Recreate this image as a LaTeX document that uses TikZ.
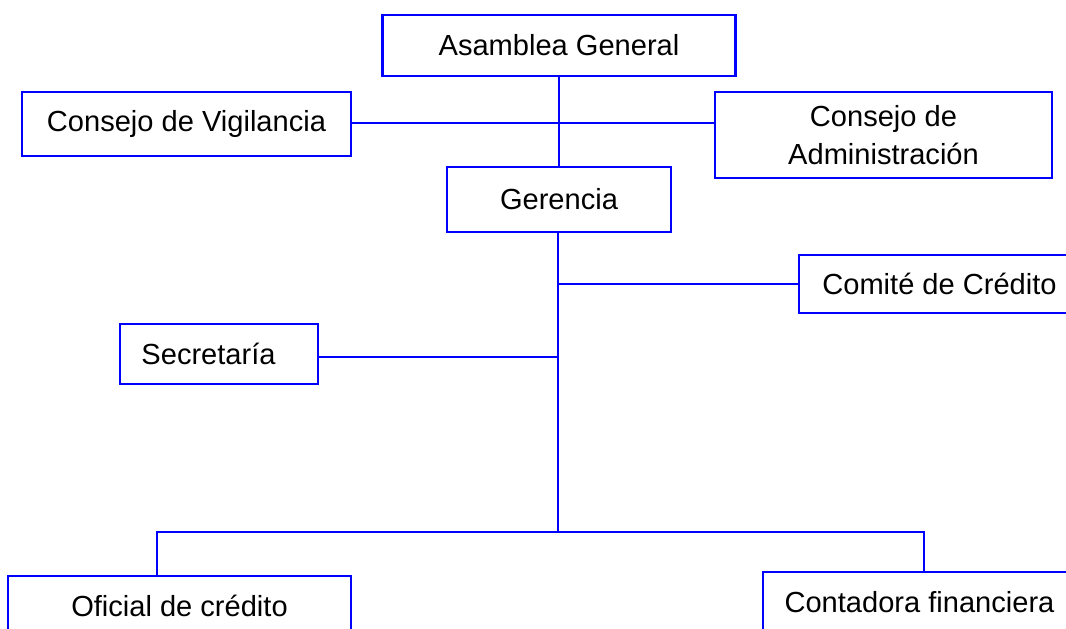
\documentclass[tikz,border=0pt]{standalone}
\usepackage{fontspec}
\setmainfont{Liberation Sans}
\begin{document}
\begin{tikzpicture}[x=0.75pt,y=-0.75pt,
	caja/.style={draw=blue,line width=1.6pt,inner sep=0pt,align=center,font=\fontsize{21.8}{28.7}\selectfont},
	linea/.style={draw=blue,line width=1.6pt}]
	\useasboundingbox (0,0) rectangle (1066,628);
	\node[caja,minimum width=264.75pt,minimum height=45.75pt] (asamblea) at (559,45.5){Asamblea General};
	\node[caja,minimum width=246.75pt,minimum height=48pt] (vigilancia) at (186.5,124){Consejo de Vigilancia};
	\node[caja,minimum width=252.75pt,minimum height=64.5pt] (administracion) at (883.5,135){Consejo de\\Administración};
	\node[caja,minimum width=168pt,minimum height=48.75pt] (gerencia) at (559,199.5){Gerencia};
	\node[caja,minimum width=210.75pt,minimum height=43.5pt] (comite) at (939.5,284){Comité de Crédito};
	\node[caja,minimum width=148.5pt,minimum height=45pt] (secretaria) at (219,354){Secretaría\hspace*{15.75pt}};
	\node[caja,minimum width=257.25pt,minimum height=45pt] (oficial) at (179.5,606){Oficial de crédito};
	\node[caja,minimum width=234.75pt,minimum height=45pt] (contadora) at (919.5,602){Contadora financiera};
	\coordinate (bus) at (558,532);
	\coordinate (busL) at (157,532);
	\coordinate (busR) at (924,532);
	\draw[linea] (asamblea) -- (gerencia);
	\draw[linea] ([yshift=0.75pt]vigilancia.east) -- ([yshift=0.75pt]vigilancia.east -| administracion.west);
	\draw[linea] ([xshift=-0.75pt]gerencia.south) -- (bus);
	\draw[linea] (bus |- comite.west) -- (comite.west);
	\draw[linea] ([yshift=-2.25pt]secretaria.east) -- ([yshift=-2.25pt]secretaria.east -| bus);
	\draw[linea] (busL |- oficial.north) -- (busL) -- (busR) -- (busR |- contadora.north);
\end{tikzpicture}
\end{document}
